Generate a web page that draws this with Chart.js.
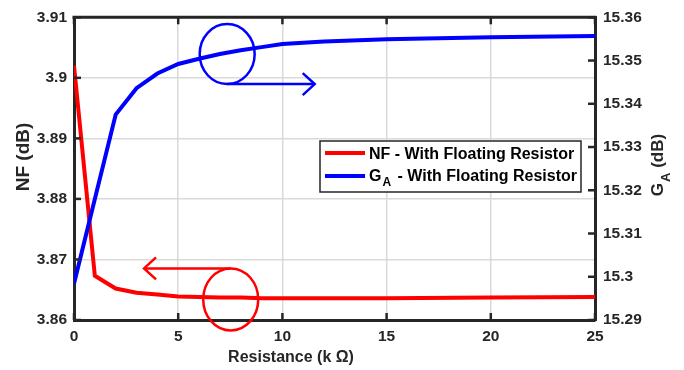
<!DOCTYPE html>
<html>
<head>
<meta charset="utf-8">
<script src="https://cdn.jsdelivr.net/npm/chart.js@4.4.1/dist/chart.umd.min.js"></script>
<style>
html,body{margin:0;padding:0;background:#fff;}
#wrap{position:relative;width:684px;height:370px;}
canvas{display:block;}
</style>
</head>
<body>
<div id="wrap"><canvas id="c" width="684" height="370"></canvas></div>
<script>
// ---- data ----
const resistance = [0, 1, 2, 3, 4, 5, 6, 7, 8, 9, 10, 12, 15, 20, 25];            // k Ohm
const nfValues   = [3.9020, 3.8673, 3.8652, 3.8645, 3.8642, 3.8639, 3.8638, 3.8637, 3.8637, 3.8636, 3.8636, 3.8636, 3.8636, 3.8637, 3.8638];
const gaValues   = [15.2984, 15.3180, 15.3375, 15.3436, 15.3470, 15.3492, 15.3504, 15.3515, 15.3524, 15.3531, 15.3538, 15.3544, 15.3549, 15.3554, 15.3557];
const xTicks  = [0, 5, 10, 15, 20, 25];
const nfTicks = [3.86, 3.87, 3.88, 3.89, 3.90, 3.91];
const gaTicks = [15.29, 15.30, 15.31, 15.32, 15.33, 15.34, 15.35, 15.36];
const nfLabel = 'NF - With Floating Resistor';
const gaLabel = ' - With Floating Resistor';

// annotation anchors in data units
const gaCircle = {x: 7.35, y: 15.3515, arrowTo: 11.55};
const nfCircle = {x: 7.52, y: 3.8634, arrowTo: 3.36};

const FONT = '"Liberation Sans", Arial, Helvetica, sans-serif';
const RED = '#ff0000', BLUE = '#0000ff', INK = '#262626';

function fmt(v){ return String(Number(v.toFixed(2))); }

const decor = {
  id: 'decor',
  afterDatasetsDraw(chart){
    const ctx = chart.ctx, a = chart.chartArea;
    const sx = chart.scales.x, sy = chart.scales.y, sy1 = chart.scales.y1;
    ctx.save();
    // top frame
    ctx.strokeStyle = INK; ctx.lineWidth = 3; ctx.lineCap = 'square';
    ctx.beginPath(); ctx.moveTo(a.left, a.top); ctx.lineTo(a.right, a.top); ctx.stroke();
    // inward ticks
    ctx.lineWidth = 2.5; ctx.lineCap = 'butt';
    const tl = 7;
    xTicks.forEach(v => {
      const px = sx.getPixelForValue(v);
      ctx.beginPath(); ctx.moveTo(px, a.bottom); ctx.lineTo(px, a.bottom - tl); ctx.stroke();
      ctx.beginPath(); ctx.moveTo(px, a.top); ctx.lineTo(px, a.top + tl); ctx.stroke();
    });
    nfTicks.forEach(v => {
      const py = sy.getPixelForValue(v);
      ctx.beginPath(); ctx.moveTo(a.left, py); ctx.lineTo(a.left + tl, py); ctx.stroke();
    });
    gaTicks.forEach(v => {
      const py = sy1.getPixelForValue(v);
      ctx.beginPath(); ctx.moveTo(a.right, py); ctx.lineTo(a.right - tl, py); ctx.stroke();
    });

    // annotations: blue circle + arrow to the right
    ctx.lineWidth = 2.5;
    let cx = sx.getPixelForValue(gaCircle.x), cy = sy1.getPixelForValue(gaCircle.y);
    const rx = 27.5, ry = 30;
    ctx.strokeStyle = BLUE;
    ctx.beginPath(); ctx.ellipse(cx, cy, rx, ry, 0, 0, Math.PI*2); ctx.stroke();
    let tip = sx.getPixelForValue(gaCircle.arrowTo), ay = cy + ry;
    ctx.beginPath(); ctx.moveTo(cx, ay); ctx.lineTo(tip, ay); ctx.stroke();
    ctx.beginPath(); ctx.moveTo(tip - 12, ay - 11); ctx.lineTo(tip, ay); ctx.lineTo(tip - 12, ay + 11); ctx.stroke();

    // red circle + arrow to the left
    cx = sx.getPixelForValue(nfCircle.x); cy = sy.getPixelForValue(nfCircle.y);
    const rry = 31;
    ctx.strokeStyle = RED;
    ctx.beginPath(); ctx.ellipse(cx, cy, rx, rry, 0, 0, Math.PI*2); ctx.stroke();
    tip = sx.getPixelForValue(nfCircle.arrowTo); ay = cy - rry;
    ctx.beginPath(); ctx.moveTo(cx, ay); ctx.lineTo(tip, ay); ctx.stroke();
    ctx.beginPath(); ctx.moveTo(tip + 12, ay - 11); ctx.lineTo(tip, ay); ctx.lineTo(tip + 12, ay + 11); ctx.stroke();

    // legend
    const lx = 320, ly = 141, lw = 261, lh = 51;
    ctx.fillStyle = '#fff'; ctx.fillRect(lx, ly, lw, lh);
    ctx.strokeStyle = INK; ctx.lineWidth = 1.5; ctx.strokeRect(lx, ly, lw, lh);
    ctx.lineWidth = 4;
    ctx.strokeStyle = RED; ctx.beginPath(); ctx.moveTo(325, 153); ctx.lineTo(365, 153); ctx.stroke();
    ctx.strokeStyle = BLUE; ctx.beginPath(); ctx.moveTo(325, 176); ctx.lineTo(365, 176); ctx.stroke();
    ctx.fillStyle = '#000'; ctx.textBaseline = 'alphabetic'; ctx.textAlign = 'left';
    ctx.font = 'bold 16px ' + FONT;
    ctx.fillText(nfLabel, 369, 158.5);
    ctx.fillText('G', 369, 181);
    let w = ctx.measureText('G').width;
    ctx.font = 'bold 12px ' + FONT;
    ctx.fillText('A', 369 + w + 1, 186);
    let w2 = ctx.measureText('A').width;
    ctx.font = 'bold 16px ' + FONT;
    ctx.fillText(gaLabel, 369 + w + w2 + 3, 181);

    // axis titles
    ctx.fillStyle = INK;
    ctx.font = 'bold 16px ' + FONT;
    ctx.textAlign = 'center'; ctx.textBaseline = 'middle';
    ctx.fillText('Resistance (k \u03A9)', 291, 358);
    // left title
    ctx.save();
    ctx.translate(24, 157); ctx.rotate(-Math.PI/2);
    ctx.font = 'bold 19px ' + FONT;
    ctx.fillText('NF (dB)', 0, 0);
    ctx.restore();
    // right title with subscript
    ctx.save();
    ctx.translate(663, 165); ctx.rotate(-Math.PI/2);
    ctx.textAlign = 'left'; ctx.textBaseline = 'alphabetic';
    ctx.font = 'bold 17px ' + FONT;
    const gW = ctx.measureText('G').width;
    ctx.font = 'bold 13px ' + FONT;
    const aW = ctx.measureText('A').width;
    ctx.font = 'bold 17px ' + FONT;
    const rest = ' (dB)';
    const rW = ctx.measureText(rest).width;
    const total = gW + aW + 1 + rW;
    let x0 = -total/2;
    ctx.fillText('G', x0, 0);
    ctx.font = 'bold 13px ' + FONT;
    ctx.fillText('A', x0 + gW + 1, 7);
    ctx.font = 'bold 17px ' + FONT;
    ctx.fillText(rest, x0 + gW + aW + 1, 0);
    ctx.restore();
    ctx.restore();
  }
};

const tickFont = {family: FONT, size: 15.5, weight: 'bold'};

new Chart(document.getElementById('c'), {
  type: 'line',
  data: {
    datasets: [
      {label: 'GA', data: resistance.map((x,i)=>({x, y: gaValues[i]})), yAxisID: 'y1',
       borderColor: BLUE, borderWidth: 4, pointRadius: 0, tension: 0, order: 0},
      {label: 'NF', data: resistance.map((x,i)=>({x, y: nfValues[i]})), yAxisID: 'y',
       borderColor: RED, borderWidth: 4, pointRadius: 0, tension: 0, order: 1}
    ]
  },
  options: {
    responsive: false, animation: false, devicePixelRatio: 1,
    layout: {padding: {top: 13, left: 0, right: 0, bottom: 0}},
    plugins: {legend: {display: false}, tooltip: {enabled: false}},
    scales: {
      x: {
        type: 'linear', min: 0, max: 25,
        afterBuildTicks: s => { s.ticks = xTicks.map(v => ({value: v})); },
        afterFit: s => { s.height = 50; },
        ticks: {font: tickFont, color: INK, padding: 7, maxRotation: 0, callback: v => String(v)},
        grid: {color: '#dadada', lineWidth: 1.5, drawTicks: false},
        border: {display: true, color: INK, width: 3}
      },
      y: {
        position: 'left', min: 3.86, max: 3.91,
        afterBuildTicks: s => { s.ticks = nfTicks.map(v => ({value: v})); },
        afterFit: s => { s.width = 74; },
        ticks: {font: tickFont, color: INK, padding: 7, callback: v => fmt(v)},
        grid: {color: '#dadada', lineWidth: 1.5, drawTicks: false},
        border: {display: true, color: INK, width: 3}
      },
      y1: {
        position: 'right', min: 15.29, max: 15.36,
        afterBuildTicks: s => { s.ticks = gaTicks.map(v => ({value: v})); },
        afterFit: s => { s.width = 89; },
        ticks: {font: tickFont, color: INK, padding: 8, callback: v => fmt(v)},
        grid: {drawOnChartArea: false, drawTicks: false},
        border: {display: true, color: INK, width: 3}
      }
    }
  },
  plugins: [decor]
});
</script>
</body>
</html>
